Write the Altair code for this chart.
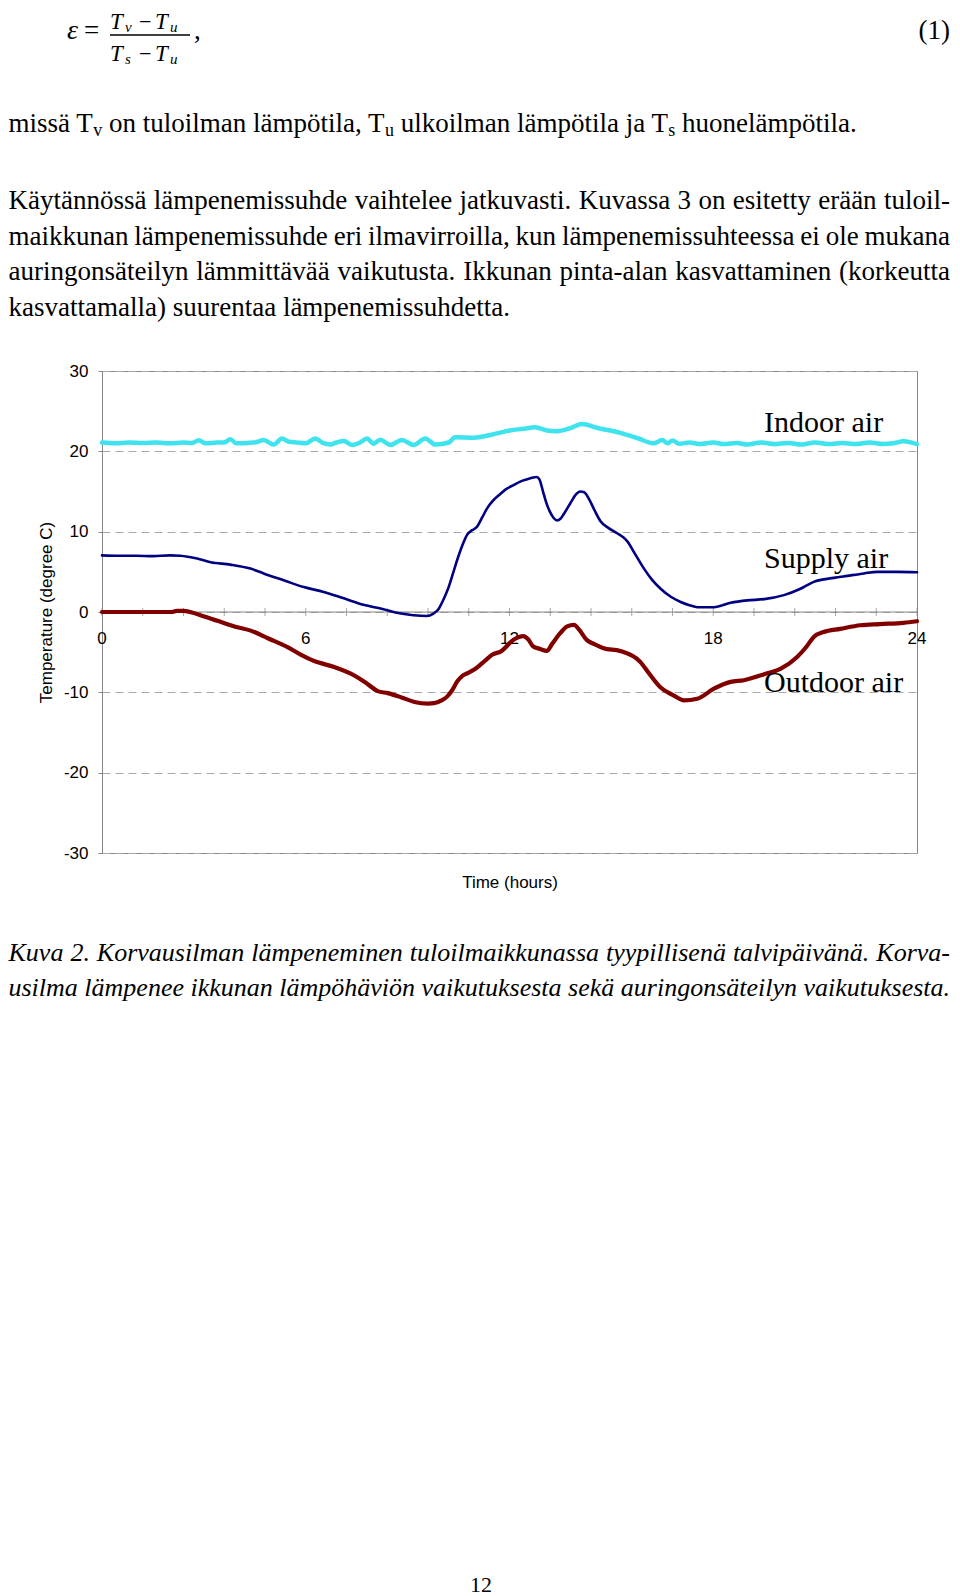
import altair as alt
import pandas as pd

# ---------------- chart data ----------------
series_names = ["Indoor air", "Supply air", "Outdoor air"]
series_colors = ["#3fe3ee", "#000080", "#800000"]

indoor_hours = [0, 0.4, 0.8, 1.2, 1.6, 2.0, 2.4, 2.65, 2.85, 3.05, 3.4, 3.6, 3.78, 3.95, 4.3,
                4.55, 4.76, 5.06, 5.3, 5.5, 5.74, 6.0, 6.28, 6.5, 6.72, 6.9, 7.12, 7.36, 7.6,
                7.8, 8.0, 8.19, 8.49, 8.83, 9.18, 9.52, 9.81, 10.21, 10.4, 10.94, 11.5, 12.02,
                12.4, 12.76, 13.1, 13.4, 13.8, 14.13, 14.6, 15.26, 15.8, 16.24, 16.5, 16.65,
                16.8, 17.0, 17.3, 17.6, 18.0, 18.3, 18.7, 19.0, 19.4, 19.8, 20.2, 20.6, 21.0,
                21.4, 21.8, 22.2, 22.6, 23.0, 23.3, 23.6, 24.0]
indoor_temp = [21.1, 21.0, 21.1, 21.05, 21.1, 21.0, 21.1, 21.05, 21.38, 21.0, 21.1, 21.1, 21.5,
               21.0, 21.05, 21.15, 21.4, 20.85, 21.6, 21.2, 21.1, 21.0, 21.6, 21.05, 20.85,
               21.1, 21.3, 20.8, 21.1, 21.6, 20.95, 21.45, 20.8, 21.4, 20.8, 21.6, 20.85, 21.1,
               21.75, 21.7, 22.1, 22.6, 22.8, 23.0, 22.6, 22.5, 22.9, 23.4, 22.9, 22.3, 21.6,
               21.0, 21.4, 21.0, 21.35, 20.95, 21.1, 20.9, 21.1, 20.9, 21.05, 20.85, 21.1,
               20.9, 21.05, 20.85, 21.1, 20.9, 21.05, 20.9, 21.1, 20.9, 21.0, 21.25, 20.9]

supply_hours = [0, 0.5, 1.0, 1.5, 2.0, 2.3, 2.8, 3.2, 3.78, 4.37, 4.76, 5.35, 5.94, 6.53, 7.12,
                7.7, 8.29, 8.68, 9.17, 9.56, 9.76, 9.9, 10.05, 10.2, 10.35, 10.5, 10.64, 10.75,
                10.84, 10.95, 11.04, 11.2, 11.34, 11.5, 11.73, 11.9, 12.12, 12.3, 12.5, 12.7,
                12.8, 12.88, 13.0, 13.1, 13.2, 13.3, 13.4, 13.5, 13.6, 13.8, 13.95, 14.08, 14.2,
                14.35, 14.5, 14.68, 14.9, 15.17, 15.35, 15.47, 15.7, 15.96, 16.2, 16.45, 16.75,
                17.04, 17.3, 17.53, 18.02, 18.51, 19.0, 19.5, 20.08, 20.57, 20.96, 21.55, 21.95,
                22.44, 22.83, 23.42, 24.0]
supply_temp = [7.05, 7.0, 7.0, 6.95, 7.05, 7.0, 6.65, 6.2, 5.9, 5.4, 4.8, 3.95, 3.1, 2.5, 1.7,
               0.9, 0.35, -0.1, -0.4, -0.5, -0.2, 0.3, 1.5, 3.0, 5.0, 7.0, 8.6, 9.6, 10.0, 10.3,
               10.6, 11.8, 12.9, 13.8, 14.7, 15.3, 15.8, 16.2, 16.5, 16.75, 16.8, 16.5, 14.8,
               13.4, 12.4, 11.7, 11.4, 11.6, 12.2, 13.6, 14.6, 15.0, 14.9, 14.0, 12.7, 11.3,
               10.5, 9.8, 9.3, 8.8, 7.2, 5.4, 4.0, 2.9, 1.9, 1.25, 0.85, 0.6, 0.6, 1.15, 1.45,
               1.6, 2.1, 2.9, 3.75, 4.25, 4.5, 4.8, 5.0, 5.0, 4.95]

outdoor_hours = [0, 1.0, 2.05, 2.2, 2.4, 2.9, 3.4, 3.9, 4.4, 4.9, 5.45, 5.85, 6.25, 6.84, 7.43,
                 7.8, 8.12, 8.41, 8.8, 9.2, 9.6, 9.78, 10.0, 10.17, 10.3, 10.47, 10.6, 10.77,
                 10.95, 11.16, 11.35, 11.5, 11.75, 12.12, 12.41, 12.55, 12.7, 12.9, 13.1, 13.25,
                 13.5, 13.7, 13.9, 14.05, 14.28, 14.5, 14.77, 15.26, 15.85, 16.1, 16.45, 16.84,
                 17.14, 17.53, 18.02, 18.51, 18.9, 19.5, 19.99, 20.47, 20.75, 20.96, 21.25,
                 21.74, 22.33, 22.9, 23.6, 24.0]
outdoor_temp = [0, 0, 0, 0.15, 0.15, -0.4, -1.1, -1.8, -2.35, -3.3, -4.35, -5.3, -6.1, -6.85,
                -7.9, -8.9, -9.85, -10.1, -10.6, -11.2, -11.4, -11.35, -11.0, -10.5, -9.8, -8.6,
                -8.0, -7.6, -7.2, -6.5, -5.8, -5.3, -4.9, -3.45, -3.0, -3.4, -4.3, -4.6, -4.85,
                -4.0, -2.6, -1.8, -1.6, -2.2, -3.5, -4.0, -4.5, -4.85, -6.2, -7.6, -9.4, -10.4,
                -11.0, -10.8, -9.55, -8.7, -8.5, -7.75, -7.05, -5.6, -4.3, -3.1, -2.5, -2.1,
                -1.65, -1.5, -1.35, -1.15]

y_tick_values = [-30, -20, -10, 0, 10, 20, 30]
x_label_hours = [0, 6, 12, 18, 24]
x_tick_hours = [0, 1.2, 2.4, 3.6, 4.8, 6, 7.2, 8.4, 9.6, 10.8, 12, 13.2, 14.4, 15.6, 16.8,
                18, 19.2, 20.4, 21.6, 22.8, 24]

# ---------------- page text ----------------
formula_number = "(1)"
where_segments = [("missä T", False), ("v", True), (" on tuloilman lämpötila, T", False),
                  ("u", True), (" ulkoilman lämpötila ja T", False), ("s", True),
                  (" huonelämpötila.", False)]
body_lines = [
    "Käytännössä lämpenemissuhde vaihtelee jatkuvasti. Kuvassa 3 on esitetty erään tuloil-",
    "maikkunan lämpenemissuhde eri ilmavirroilla, kun lämpenemissuhteessa ei ole mukana",
    "auringonsäteilyn lämmittävää vaikutusta. Ikkunan pinta-alan kasvattaminen (korkeutta",
    "kasvattamalla) suurentaa lämpenemissuhdetta.",
]
caption_lines = [
    "Kuva 2. Korvausilman lämpeneminen tuloilmaikkunassa tyypillisenä talvipäivänä. Korva-",
    "usilma lämpenee ikkunan lämpöhäviön vaikutuksesta sekä auringonsäteilyn vaikutuksesta.",
]
page_number = "12"

# ---------------- layout ----------------
PL, PT = 102, 371          # page position of the plot area
W, H = 815, 482
SVG_W, SVG_H = 944, 1588
LEFT = 8.5                 # leftmost position the page can show text at
RIGHT = 950
SERIF = "Liberation Serif"
SANS = "Liberation Sans"
GRAY = "#868686"

REG = {' ': .25, 'a': .4438, 'b': .5, 'c': .4438, 'd': .5, 'e': .4438, 'f': .333, 'g': .5,
       'h': .5, 'i': .2778, 'j': .2778, 'k': .5, 'l': .2778, 'm': .7778, 'n': .5, 'o': .5,
       'p': .5, 'r': .333, 's': .3892, 't': .2778, 'u': .5, 'v': .5, 'y': .5, 'ä': .4438,
       'ö': .5, 'K': .7222, 'I': .333, 'T': .6108, '(': .333, ')': .333, '-': .333, ',': .25,
       '.': .25}
ITA = {' ': .25, 'a': .5, 'e': .4438, 'g': .5, 'h': .5, 'i': .2778, 'k': .4438, 'l': .2778,
       'm': .7222, 'n': .5, 'o': .5, 'p': .5, 'r': .3892, 's': .3892, 't': .2778, 'u': .5,
       'v': .4438, 'y': .4438, 'ä': .5, 'ö': .5, 'K': .667, '.': .25, '-': .333}


def tw(s, size, table):
    return sum(table.get(c, .5) for c in s) * size


one = pd.DataFrame({"k": [0]})


def txt(s, x, y, size=27, font=SERIF, style="normal", align="left"):
    return alt.Chart(one).mark_text(
        text=s, font=font, fontSize=size, fontStyle=style, align=align,
        baseline="alphabetic", color="black"
    ).encode(x=alt.value(x - PL), y=alt.value(y - PT))


def justified(line, x0, x1, y, size, table, style="normal"):
    words = line.split(" ")
    widths = [tw(w, size, table) for w in words]
    gap = (x1 - x0 - sum(widths)) / (len(words) - 1)
    out, x = [], x0
    for w, wd in zip(words, widths):
        out.append(txt(w, x, y, size, style=style))
        x += wd + gap
    return out


texts = []
# formula
texts += [
    txt("ε", 67, 39, 28, style="italic"),
    txt("=", 84, 39, 27),
    txt("T", 110, 29, 23, style="italic"), txt("v", 125, 32, 15, style="italic"),
    txt("−", 139, 29, 22), txt("T", 155, 29, 23, style="italic"),
    txt("u", 170, 32, 15, style="italic"),
    txt("T", 110, 61, 23, style="italic"), txt("s", 125, 64, 15, style="italic"),
    txt("−", 139, 61, 22), txt("T", 155, 61, 23, style="italic"),
    txt("u", 170, 64, 15, style="italic"),
    txt(",", 194, 39, 27),
    txt(formula_number, RIGHT, 39, 27, align="right"),
]
fraction_bar = alt.Chart(one).mark_rule(color="black", strokeWidth=1.3).encode(
    x=alt.value(110 - PL), x2=alt.value(190 - PL), y=alt.value(35 - PT))

# "missä ..." line with subscripts
x = LEFT
for seg, sub in where_segments:
    size = 18 if sub else 27
    if seg.startswith(" "):
        x += tw(" ", size, REG)
        seg = seg[1:]
    texts.append(txt(seg, x, 136 if sub else 132, size))
    x += tw(seg, size, REG)

# paragraph
body_base = [209, 244.7, 280.3, 316]
for i, line in enumerate(body_lines):
    if i < 3:
        texts += justified(line, LEFT, RIGHT, body_base[i], 27, REG)
    else:
        texts.append(txt(line, LEFT, body_base[i], 27))

# caption
texts += justified(caption_lines[0], LEFT, RIGHT, 961, 26, ITA, style="italic")
texts.append(txt(caption_lines[1], LEFT, 996, 26, style="italic"))
texts.append(txt(page_number, 481, 1592, 22, align="center"))

# chart annotations
texts += [txt("Indoor air", 764, 432, 30), txt("Supply air", 764, 568, 30),
          txt("Outdoor air", 764, 692, 30)]

# ---------------- chart ----------------
xs = alt.Scale(domain=[0, 24], nice=False, zero=False)
ys = alt.Scale(domain=[-30, 30], nice=False)
x_axis = alt.Axis(labels=False, ticks=False, domain=False, grid=False, title="Time (hours)",
                  titleFont=SANS, titleFontSize=17, titleFontWeight="normal",
                  titleColor="black", titlePadding=21)
y_axis = alt.Axis(values=y_tick_values, labelExpr="'' + datum.value", labelFont=SANS,
                  labelFontSize=17, labelColor="black", labelPadding=10, tickSize=4,
                  tickColor=GRAY, domainColor=GRAY, gridColor="#a8a8a8", gridDash=[8, 5],
                  title="Temperature (degree C)", titleFont=SANS, titleFontSize=17,
                  titleFontWeight="normal", titleColor="black", titlePadding=8)


def X(f="hour"):
    return alt.X(f"{f}:Q", scale=xs, axis=x_axis)


def Y(f="temp"):
    return alt.Y(f"{f}:Q", scale=ys, axis=y_axis)


zero_df = pd.DataFrame({"temp": [0]})
zero_line = alt.Chart(zero_df).mark_rule(color=GRAY, strokeWidth=1).encode(y=Y())

tick_df = pd.DataFrame({"hour": x_tick_hours, "temp": [0] * len(x_tick_hours)})
ticks = alt.Chart(tick_df).mark_tick(orient="vertical", size=8, thickness=1,
                                     color=GRAY).encode(x=X(), y=Y())

lab_df = pd.DataFrame({"hour": x_label_hours, "temp": [0] * len(x_label_hours)})
xlabels = alt.Chart(lab_df).mark_text(font=SANS, fontSize=17, dy=27, baseline="middle",
                                      color="black").encode(
    x=X(), y=Y(), text=alt.Text("hour:Q", format="d"))

series_layers = []
for name, hs, ts, col, sw in [
        ("Indoor air", indoor_hours, indoor_temp, series_colors[0], 4.5),
        ("Supply air", supply_hours, supply_temp, series_colors[1], 2.6),
        ("Outdoor air", outdoor_hours, outdoor_temp, series_colors[2], 4.2)]:
    d = pd.DataFrame({"series": name, "hour": hs, "temp": ts})
    series_layers.append(
        alt.Chart(d).mark_line(color=col, strokeWidth=sw, strokeJoin="round",
                               strokeCap="round", interpolate="monotone").encode(
            x=X(), y=Y()))

chart = alt.layer(zero_line, ticks, xlabels, *series_layers, fraction_bar, *texts).properties(
    width=W, height=H,
    padding={"left": PL - 8, "top": PT - 8, "right": SVG_W - (PL - 8) - W,
             "bottom": SVG_H - (PT - 8) - H},
    autosize=alt.AutoSizeParams(type="none"),
    background="white",
).configure_view(stroke=GRAY, strokeWidth=1)

chart.save("out.html", embed_options={"renderer": "svg", "actions": False})
